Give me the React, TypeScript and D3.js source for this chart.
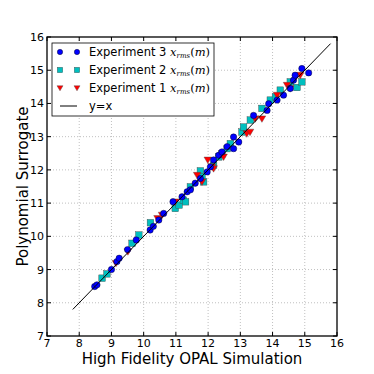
import React from 'react';
import * as d3 from 'd3';

// Experiment 3 (blue circles)
const exp3X = [8.48, 8.55, 9.0, 9.17, 9.24, 9.5, 9.77, 10.2, 10.3, 10.47, 10.62, 10.91, 11.19, 11.35, 11.45, 11.6, 11.76, 11.97, 12.07, 12.17, 12.33, 12.43, 12.59, 12.79, 12.79, 12.95, 13.41, 13.83, 13.88, 14.14, 14.34, 14.55, 14.65, 14.7, 14.91, 15.12];
const exp3Y = [8.49, 8.54, 9.0, 9.24, 9.34, 9.6, 9.89, 10.19, 10.3, 10.49, 10.69, 11.04, 11.19, 11.34, 11.4, 11.6, 11.74, 11.94, 12.09, 12.3, 12.44, 12.54, 12.7, 12.99, 12.64, 12.84, 13.64, 13.79, 13.99, 14.1, 14.25, 14.45, 14.7, 14.85, 15.05, 14.92];

// Experiment 2 (cyan squares)
const exp2X = [8.71, 8.86, 9.64, 9.85, 10.21, 10.98, 11.1, 11.23, 11.3, 11.45, 11.76, 11.81, 11.86, 12.17, 12.33, 12.43, 12.59, 12.69, 13.05, 13.1, 13.31, 13.67, 13.93, 14.09, 14.24, 14.55, 14.76, 14.91];
const exp2Y = [8.74, 8.87, 9.79, 10.04, 10.41, 10.84, 10.94, 11.09, 11.04, 11.49, 11.97, 11.79, 11.64, 12.14, 12.39, 12.48, 12.64, 12.79, 13.14, 13.29, 13.5, 13.85, 14.1, 14.2, 14.4, 14.65, 14.48, 14.65];

// Experiment 1 (red triangles)
const exp1X = [9.14, 9.51, 10.43, 10.57, 10.98, 11.66, 11.81, 11.99, 12.12, 12.17, 12.48, 13.2, 13.3, 13.46, 13.67, 14.14, 14.45, 14.55, 14.86];
const exp1Y = [9.19, 9.54, 10.54, 10.64, 11.04, 11.84, 11.64, 12.3, 12.1, 12.04, 12.39, 13.09, 13.14, 13.54, 13.54, 14.25, 14.55, 14.45, 14.85];

const ticks = [7, 8, 9, 10, 11, 12, 13, 14, 15, 16];
const lineRange = [7.8, 15.8];

const W = 374, H = 374;
const m = { left: 47, right: 337, top: 37, bottom: 336 };

export default function App() {
  const x = d3.scaleLinear().domain([7, 16]).range([m.left, m.right]);
  const y = d3.scaleLinear().domain([7, 16]).range([m.bottom, m.top]);
  const font = 'DejaVu Sans, sans-serif';

  const tri = (cx: number, cy: number, s = 3.8) =>
    `M${cx - s},${cy - s * 0.75}L${cx + s},${cy - s * 0.75}L${cx},${cy + s * 0.95}Z`;

  const circle = (cx: number, cy: number, k: string, r = 3.2) => (
    <circle key={k} cx={cx} cy={cy} r={r} fill="#0000ff" stroke="#000" strokeWidth={0.4} />
  );
  const square = (cx: number, cy: number, k: string, h = 3.3) => (
    <rect key={k} x={cx - h} y={cy - h} width={2 * h} height={2 * h} fill="#00bfbf" stroke="#444" strokeWidth={0.4} />
  );
  const triangle = (cx: number, cy: number, k: string, s = 3.8) => (
    <path key={k} d={tri(cx, cy, s)} fill="#ff0000" stroke="#444" strokeWidth={0.4} />
  );

  const lineGen = d3.line<number>().x(d => x(d)).y(d => y(d));

  const legendLabel = (name: string) => (
    <>
      {name + ' '}
      <tspan fontFamily="DejaVu Serif, serif" fontStyle="italic">x</tspan>
      <tspan fontFamily="DejaVu Serif, serif" fontStyle="italic" fontSize={7} dy={2}>rms</tspan>
      <tspan fontFamily="DejaVu Serif, serif" dy={-2}>(</tspan>
      <tspan fontFamily="DejaVu Serif, serif" fontStyle="italic">m</tspan>
      <tspan fontFamily="DejaVu Serif, serif">)</tspan>
    </>
  );

  const rows = [
    { label: 'Experiment 3', mk: (cx: number, cy: number, k: string) => circle(cx, cy, k, 2.7) },
    { label: 'Experiment 2', mk: (cx: number, cy: number, k: string) => square(cx, cy, k, 2.7) },
    { label: 'Experiment 1', mk: (cx: number, cy: number, k: string) => triangle(cx, cy, k, 3) },
  ];

  return (
    <svg width={W} height={H} style={{ position: 'absolute', left: 0, top: 0, background: '#fff' }}>
      {/* grid */}
      {ticks.slice(1, -1).map(t => (
        <g key={'g' + t}>
          <line x1={x(t)} x2={x(t)} y1={m.top} y2={m.bottom} stroke="#b0b0b0" strokeWidth={0.8} strokeDasharray="1,2" />
          <line x1={m.left} x2={m.right} y1={y(t)} y2={y(t)} stroke="#b0b0b0" strokeWidth={0.8} strokeDasharray="1,2" />
        </g>
      ))}

      {/* markers */}
      {exp2X.map((v, i) => square(x(v), y(exp2Y[i]), 's' + i))}
      {exp1X.map((v, i) => triangle(x(v), y(exp1Y[i]), 't' + i))}
      {exp3X.map((v, i) => circle(x(v), y(exp3Y[i]), 'c' + i))}

      {/* y = x */}
      <path d={lineGen(lineRange) || ''} stroke="#000" strokeWidth={1} fill="none" />

      {/* ticks */}
      {ticks.map(t => (
        <g key={'t' + t}>
          <line x1={x(t)} x2={x(t)} y1={m.bottom} y2={m.bottom - 4} stroke="#000" />
          <line x1={x(t)} x2={x(t)} y1={m.top} y2={m.top + 4} stroke="#000" />
          <line x1={m.left} x2={m.left + 4} y1={y(t)} y2={y(t)} stroke="#000" />
          <line x1={m.right} x2={m.right - 4} y1={y(t)} y2={y(t)} stroke="#000" />
          <text x={x(t)} y={m.bottom + 11} textAnchor="middle" fontFamily={font} fontSize={11}>{t}</text>
          <text x={m.left - 3} y={y(t) + 4} textAnchor="end" fontFamily={font} fontSize={11}>{t}</text>
        </g>
      ))}

      {/* frame */}
      <rect x={m.left} y={m.top} width={m.right - m.left} height={m.bottom - m.top} fill="none" stroke="#000" strokeWidth={1.3} />

      {/* legend */}
      <rect x={52} y={43} width={162} height={73} fill="#fff" stroke="#000" strokeWidth={0.8} />
      {rows.map((r, i) => {
        const cy = 52 + i * 18;
        return (
          <g key={'l' + i}>
            {r.mk(60, cy, 'la' + i)}
            {r.mk(77, cy, 'lb' + i)}
            <text x={89} y={cy + 4} fontFamily={font} fontSize={11.5}>{legendLabel(r.label)}</text>
          </g>
        );
      })}
      <line x1={60} x2={77} y1={106} y2={106} stroke="#000" strokeWidth={1} />
      <text x={89} y={110} fontFamily={font} fontSize={11.5}>y=x</text>

      {/* axis labels */}
      <text x={(m.left + m.right) / 2} y={364} textAnchor="middle" fontFamily={font} fontSize={15}>High Fidelity OPAL Simulation</text>
      <text transform={`translate(28,${(m.top + m.bottom) / 2}) rotate(-90)`} textAnchor="middle" fontFamily={font} fontSize={15}>Polynomial Surrogate</text>
    </svg>
  );
}
